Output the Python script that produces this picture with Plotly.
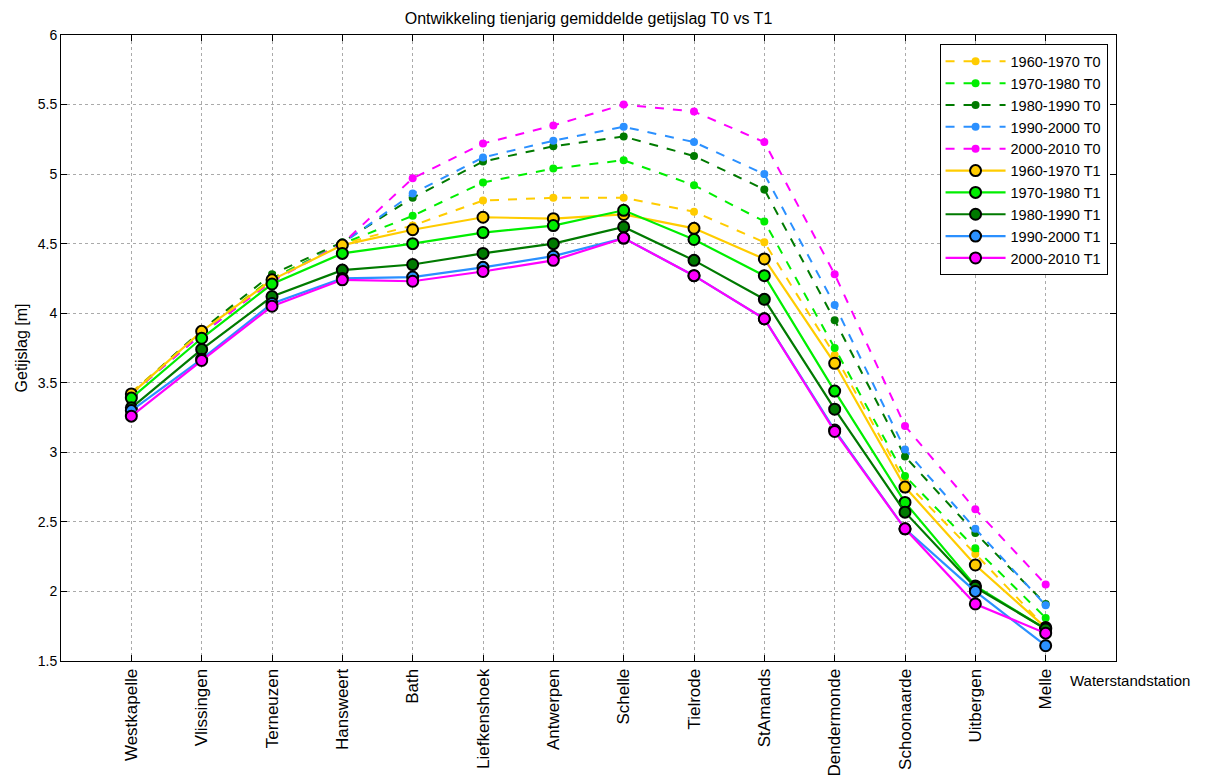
import plotly.graph_objects as go

# Stations along the Scheldt, downstream to upstream
stations = ["Westkapelle", "Vlissingen", "Terneuzen", "Hansweert", "Bath",
            "Liefkenshoek", "Antwerpen", "Schelle", "Tielrode", "StAmands",
            "Dendermonde", "Schoonaarde", "Uitbergen", "Melle"]

# Ten-year mean tidal range [m], scenario T0
t0_1960 = [3.43, 3.87, 4.25, 4.50, 4.63, 4.81, 4.83, 4.83, 4.73, 4.51, 3.70, 2.79, 2.27, 1.74]
t0_1970 = [3.42, 3.86, 4.25, 4.50, 4.70, 4.94, 5.04, 5.10, 4.92, 4.66, 3.75, 2.83, 2.31, 1.81]
t0_1980 = [3.42, 3.88, 4.28, 4.51, 4.83, 5.09, 5.20, 5.27, 5.13, 4.89, 3.95, 2.97, 2.42, 1.91]
t0_1990 = [3.42, 3.85, 4.24, 4.50, 4.86, 5.12, 5.24, 5.34, 5.23, 5.00, 4.06, 3.02, 2.45, 1.90]
t0_2000 = [3.42, 3.85, 4.23, 4.50, 4.97, 5.22, 5.35, 5.50, 5.45, 5.23, 4.28, 3.19, 2.59, 2.05]

# Ten-year mean tidal range [m], scenario T1
t1_1960 = [3.42, 3.87, 4.24, 4.49, 4.60, 4.69, 4.68, 4.71, 4.61, 4.39, 3.64, 2.75, 2.19, 1.74]
t1_1970 = [3.39, 3.82, 4.21, 4.43, 4.50, 4.58, 4.63, 4.74, 4.53, 4.27, 3.44, 2.64, 2.04, 1.73]
t1_1980 = [3.32, 3.74, 4.12, 4.31, 4.35, 4.43, 4.50, 4.62, 4.38, 4.10, 3.31, 2.57, 2.03, 1.73]
t1_1990 = [3.30, 3.67, 4.07, 4.25, 4.26, 4.33, 4.41, 4.54, 4.27, 3.96, 3.16, 2.45, 2.00, 1.61]
t1_2000 = [3.26, 3.66, 4.05, 4.24, 4.23, 4.30, 4.38, 4.54, 4.27, 3.96, 3.15, 2.45, 1.91, 1.70]

periods = ["1960-1970", "1970-1980", "1980-1990", "1990-2000", "2000-2010"]
colors = ["#FFCC00", "#00EE00", "#007A00", "#2B90FF", "#FF00FF"]
t0_series = [t0_1960, t0_1970, t0_1980, t0_1990, t0_2000]
t1_series = [t1_1960, t1_1970, t1_1980, t1_1990, t1_2000]

x = list(range(1, len(stations) + 1))
font_family = "Arial, Liberation Sans, sans-serif"

fig = go.Figure()

for name, col, vals in zip(periods, colors, t0_series):
    fig.add_trace(go.Scatter(
        x=x, y=vals, mode="lines+markers", name=f"{name} T0",
        line=dict(color=col, width=2, dash="dash"),
        marker=dict(color=col, size=8, symbol="circle", line=dict(width=0)),
    ))

for name, col, vals in zip(periods, colors, t1_series):
    fig.add_trace(go.Scatter(
        x=x, y=vals, mode="lines+markers", name=f"{name} T1",
        line=dict(color=col, width=2.2),
        marker=dict(color=col, size=11, symbol="circle",
                    line=dict(color="black", width=2)),
    ))

fig.update_layout(
    width=1211, height=778,
    paper_bgcolor="white", plot_bgcolor="white",
    margin=dict(l=61, r=95, t=35, b=117),
    font=dict(family=font_family, size=13, color="black"),
    title=dict(text="Ontwikkeling tienjarig gemiddelde getijslag T0 vs T1",
               x=0.5, xref="paper", xanchor="center",
               y=1 - 18 / 778, yanchor="middle",
               font=dict(size=16, family=font_family)),
    showlegend=True,
    legend=dict(x=0.992, xanchor="right", y=0.985, yanchor="top",
                bgcolor="white", bordercolor="black", borderwidth=1,
                font=dict(size=14.5, family=font_family),
                tracegroupgap=0, itemwidth=60),
)

fig.update_xaxes(
    range=[0, 15], tickmode="array", tickvals=x, ticktext=stations,
    tickangle=-90, ticks="inside", ticklen=6, tickcolor="black",
    showline=True, linecolor="black", linewidth=1, mirror="ticks",
    showgrid=True, gridcolor="#AAAAAA", griddash="dot", gridwidth=1,
    zeroline=False, automargin=False,
    tickfont=dict(size=17, family=font_family),
)
fig.update_yaxes(
    range=[1.5, 6], dtick=0.5, tick0=1.5,
    ticks="inside", ticklen=6, tickcolor="black",
    showline=True, linecolor="black", linewidth=1, mirror="ticks",
    showgrid=True, gridcolor="#AAAAAA", griddash="dot", gridwidth=1,
    zeroline=False, automargin=False,
    tickfont=dict(size=14, family=font_family),
    title=dict(text="Getijslag [m]", font=dict(size=16, family=font_family),
               standoff=6),
)

fig.add_annotation(
    text="Waterstandstation", xref="paper", yref="paper",
    x=(1068 - 61) / 1055, y=0, xanchor="left", yanchor="middle", yshift=-19,
    showarrow=False, font=dict(size=15, family=font_family),
)

fig.write_html("out.html")
